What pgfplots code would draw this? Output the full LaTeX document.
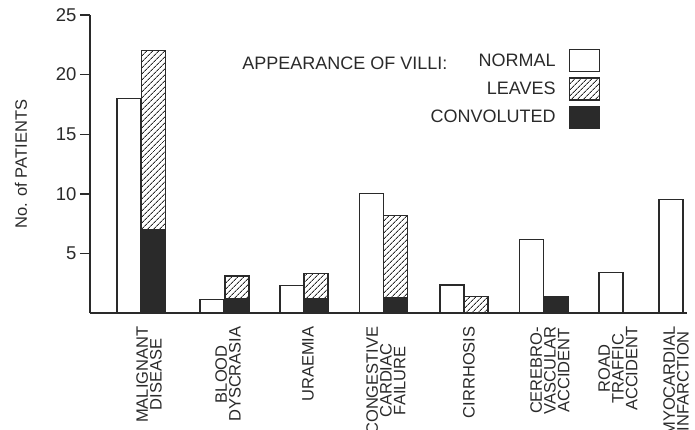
\documentclass[border=0pt]{standalone}
\usepackage{pgfplots}
\pgfplotsset{compat=1.18}
\usepackage{fontspec}
\setmainfont{Liberation Sans}
\usetikzlibrary{patterns.meta}
\definecolor{ink}{HTML}{2A2A2A}
\begin{document}
\begin{tikzpicture}
\path[use as bounding box] (-90pt,-116pt) rectangle (605pt,313pt);
\begin{axis}[
  at={(0pt,0pt)}, anchor=south west,
  width=597pt, height=298pt, scale only axis,
  xmin=90, xmax=687, ymin=0, ymax=25,
  axis lines=left,
  axis line style={-, line width=1.4pt, draw=ink},
  ytick={5,10,15,20,25},
  ytick style={line width=1.4pt, draw=ink},
  tick align=outside,
  major tick length=10pt,
  yticklabel style={font=\fontsize{18.5}{18}\selectfont, text=ink},
  /pgf/number format/assume math mode=true,
  xtick={146,225,305,383,466,547,615,673},
  xtick style={draw=none},
  xticklabels={{MALIGNANT\\DISEASE},{BLOOD\\DYSCRASIA},{URAEMIA},{CONGESTIVE\\CARDIAC\\FAILURE},{CIRRHOSIS},{CEREBRO-\\VASCULAR\\ACCIDENT},{ROAD\\TRAFFIC\\ACCIDENT},{MYOCARDIAL\\INFARCTION}},
  xticklabel style={rotate=90, anchor=east, align=center, font=\fontsize{16.5}{13.8}\selectfont, text=ink, yshift=-3pt},
  ylabel={No. of PATIENTS},
  every axis y label/.style={at={(axis description cs:0,0.5)}, xshift=-69pt, rotate=90, anchor=center, font=\fontsize{16.5}{16}\selectfont, text=ink},
  ybar, bar shift=0pt, bar width=24,
  legend style={draw=none, fill=none, at={(axis cs:600,22.15)}, anchor=north east, inner sep=0pt, row sep=5pt, column sep=11pt, font=\fontsize{18}{18}\selectfont, text=ink},
  legend cell align=right,
  legend plot pos=right,
  legend image code/.code={\draw[#1, line width=1.2pt] (0pt,-11pt) rectangle (30pt,11pt);},
]
\addplot[draw=ink, line width=1.2pt, fill=white] coordinates {
  (129,18) (212,1.1) (292,2.3) (371.5,10.0) (452,2.35) (531.5,6.2) (611,3.4) (671,9.5)};
\addlegendentry{NORMAL}
\addplot[draw=ink, line width=1.2pt, fill=white, pattern={Lines[angle=45,distance=4pt,line width=0.9pt]}, pattern color=ink] coordinates {
  (153.5,22) (237,3.1) (316,3.3) (395.5,8.2) (476,1.4)};
\addlegendentry{LEAVES}
\addplot[draw=ink, line width=1.2pt, fill=ink] coordinates {
  (153.5,7) (237,1.2) (316,1.25) (395.5,1.3) (556.5,1.4)};
\addlegendentry{CONVOLUTED}
\node[anchor=east, font=\fontsize{18}{18}\selectfont, text=ink] at (axis cs:451,20.95) {APPEARANCE OF VILLI:};
\end{axis}
\end{tikzpicture}
\end{document}
